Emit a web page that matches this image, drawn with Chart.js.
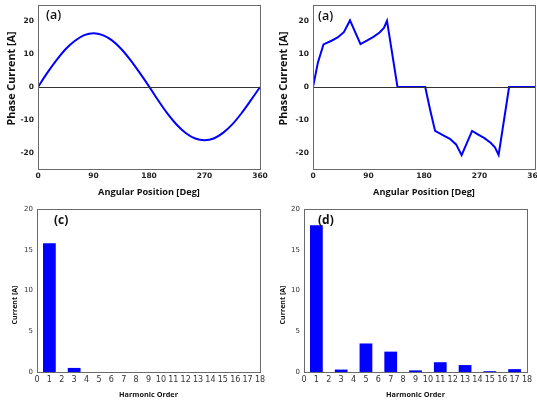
<!DOCTYPE html>
<html>
<head>
<meta charset="utf-8">
<script src="https://cdn.jsdelivr.net/npm/chart.js@4/dist/chart.umd.min.js"></script>
<style>
  body { margin: 0; background: #fff; }
  #wrap { position: relative; width: 537px; height: 401px; }
  canvas { position: absolute; }
</style>
</head>
<body>
<div id="wrap">
  <canvas id="pa" width="268" height="200" style="left:0;top:0"></canvas>
  <canvas id="pb" width="269" height="200" style="left:268px;top:0"></canvas>
  <canvas id="pc" width="268" height="201" style="left:0;top:200px"></canvas>
  <canvas id="pd" width="269" height="201" style="left:268px;top:200px"></canvas>
</div>
<script>
// sinusoidal phase current, read every 15 deg
const sineAngles = [0, 15, 30, 45, 60, 75, 90, 105, 120, 135, 150, 165, 180,
                    195, 210, 225, 240, 255, 270, 285, 300, 315, 330, 345, 360];
const sineCurrent = [0, 4.3, 8.2, 11.6, 14.1, 15.8, 16.4, 15.8, 14.2, 11.6, 8.2, 4.3, 0.2,
                     -4.1, -8.1, -11.5, -14.1, -15.7, -16.2, -15.7, -14.0, -11.4, -8.0, -4.1, 0];

// square-ish (BLDC) phase current
const pulseAngles = [0, 8, 17, 30, 40, 50, 60, 77, 88, 98, 108, 115, 120, 137, 182,
                     190, 198, 212, 222, 232, 241, 258, 268, 278, 288, 295, 301, 318, 360];
const pulseCurrent = [0, 7.5, 13.0, 14.1, 15.1, 16.7, 20.3, 13.1, 14.2, 15.3, 16.6, 18.0, 20.2, 0, 0,
                      -7.0, -13.4, -14.8, -15.8, -17.5, -20.8, -13.4, -14.5, -15.6, -17.0, -18.4, -20.7, 0, 0];

const angleTicks = [0, 90, 180, 270, 360];
const phaseTicks = [-20, -10, 0, 10, 20];

// harmonic spectra
const harmonics = [1, 3, 5, 7, 9, 11, 13, 15, 17];
const sineHarm = [15.8, 0.5, 0, 0, 0, 0, 0, 0, 0];
const pulseHarm = [18.0, 0.3, 3.5, 2.5, 0.2, 1.2, 0.85, 0.1, 0.35];
const orderTicks = [0, 1, 2, 3, 4, 5, 6, 7, 8, 9, 10, 11, 12, 13, 14, 15, 16, 17, 18];
const ampTicks = [0, 5, 10, 15, 20];

const BLUE = '#0000ff';

// font size that makes a bold Open Sans title about `w` px wide
const measureCtx = document.createElement('canvas').getContext('2d');
function sizeFor(text, w) {
    measureCtx.font = 'bold 10px "Open Sans"';
    return 10 * w / measureCtx.measureText(text).width;
}
const angTitleSize = sizeFor('Angular Position [Deg]', 102);
const phaseTitleSize = sizeFor('Phase Current [A]', 94);
const orderTitleSize = sizeFor('Harmonic Order', 59);
const curTitleSize = sizeFor('Current [A]', 39);

// frame, zero line, panel letter and the (off-centre) y title
const framePlugin = {
    id: 'frame',
    afterDraw(chart, args, opts) {
        const a = chart.chartArea;
        const ctx = chart.ctx;
        ctx.save();
        if (opts.zero) {
            const y0 = Math.round(chart.scales.y.getPixelForValue(0)) + 0.5;
            ctx.strokeStyle = '#333';
            ctx.lineWidth = 1.2;
            ctx.beginPath();
            ctx.moveTo(a.left, y0);
            ctx.lineTo(a.right, y0);
            ctx.stroke();
        }
        ctx.strokeStyle = '#6a6a6a';
        ctx.lineWidth = 1;
        ctx.strokeRect(Math.round(a.left) + 0.5, Math.round(a.top) + 0.5,
                       Math.round(a.right - a.left), Math.round(a.bottom - a.top));
        ctx.fillStyle = '#111';
        ctx.textBaseline = 'middle';
        ctx.font = opts.font;
        ctx.fillText(opts.label, opts.lx, opts.ly);

        ctx.translate(opts.tx, opts.tyc);
        ctx.rotate(-Math.PI / 2);
        ctx.textAlign = 'center';
        ctx.font = opts.tfont;
        ctx.fillText(opts.ytitle, 0, 0);
        ctx.restore();
    }
};

function fixBox(left, bottom) {
    return {
        y: (s) => { s.width = left; s.paddingTop = 0; s.paddingBottom = 0; },
        x: (s) => { s.height = s.chart.height - bottom; s.paddingLeft = 0; s.paddingRight = 0; }
    };
}

function lineChart(id, xs, ys, box, label, tension) {
    const fit = fixBox(box.left, box.bottom);
    new Chart(document.getElementById(id), {
        type: 'line',
        data: {
            datasets: [{
                data: xs.map((x, i) => ({x: x, y: ys[i]})),
                borderColor: BLUE,
                borderWidth: 2,
                pointRadius: 0,
                tension: tension,
                cubicInterpolationMode: tension ? 'monotone' : 'default'
            }]
        },
        options: {
            responsive: false,
            animation: false,
            layout: {padding: {left: 0, top: box.top, right: box.right, bottom: 0}},
            plugins: {
                legend: {display: false},
                tooltip: {enabled: false},
                frame: {zero: true, label: label, lx: box.lx, ly: box.ly, font: '600 12.5px "Open Sans"',
                        ytitle: 'Phase Current [A]', tx: box.tx, tyc: 78.5,
                        tfont: 'bold ' + phaseTitleSize + 'px "Open Sans"'}
            },
            scales: {
                x: {
                    type: 'linear', min: 0, max: 360,
                    afterBuildTicks: (s) => { s.ticks = angleTicks.map(v => ({value: v})); },
                    afterFit: fit.x,
                    grid: {display: false, drawTicks: false}, border: {display: false},
                    ticks: {font: {family: 'DejaVu Sans', weight: 'bold', size: 7.5}, color: '#222', padding: 3, maxRotation: 0},
                    title: {display: true, text: 'Angular Position [Deg]', color: '#111',
                            font: {family: 'Open Sans', weight: 'bold', size: angTitleSize}, padding: {top: 0, bottom: 2}}
                },
                y: {
                    min: -25, max: 25,
                    afterBuildTicks: (s) => { s.ticks = phaseTicks.map(v => ({value: v})); },
                    afterFit: fit.y,
                    grid: {display: false, drawTicks: false}, border: {display: false},
                    ticks: {font: {family: 'DejaVu Sans', weight: 'bold', size: 7.5}, color: '#222', padding: 4}
                }
            }
        },
        plugins: [framePlugin]
    });
}

function barChart(id, vals, box, label) {
    const fit = fixBox(box.left, box.bottom);
    new Chart(document.getElementById(id), {
        type: 'bar',
        data: {
            datasets: [{
                data: harmonics.map((h, i) => ({x: h, y: vals[i]})),
                backgroundColor: BLUE,
                borderWidth: 0,
                categoryPercentage: 1,
                barPercentage: 1.03
            }]
        },
        options: {
            responsive: false,
            animation: false,
            layout: {padding: {left: 0, top: box.top, right: box.right, bottom: 0}},
            plugins: {
                legend: {display: false},
                tooltip: {enabled: false},
                frame: {zero: false, label: label, lx: box.lx, ly: box.ly, font: 'bold 12px "Open Sans"',
                        ytitle: 'Current [A]', tx: box.tx, tyc: 105,
                        tfont: 'bold ' + curTitleSize + 'px "Open Sans"'}
            },
            scales: {
                x: {
                    type: 'linear', min: 0, max: 18, offset: false,
                    afterBuildTicks: (s) => { s.ticks = orderTicks.map(v => ({value: v})); },
                    afterFit: fit.x,
                    grid: {display: false, drawTicks: false}, border: {display: false},
                    ticks: {font: {family: 'DejaVu Sans', size: 8}, color: '#333', padding: 3, maxRotation: 0, autoSkip: false},
                    title: {display: true, text: 'Harmonic Order', color: '#111', align: 'center',
                            font: {family: 'Open Sans', weight: 'bold', size: orderTitleSize}, padding: {top: 0, bottom: 1.5}}
                },
                y: {
                    min: 0, max: 20,
                    afterBuildTicks: (s) => { s.ticks = ampTicks.map(v => ({value: v})); },
                    afterFit: fit.y,
                    grid: {display: false, drawTicks: false}, border: {display: false},
                    ticks: {font: {family: 'DejaVu Sans', size: 7}, color: '#333', padding: 4}
                }
            }
        },
        plugins: [framePlugin]
    });
}

lineChart('pa', sineAngles, sineCurrent,
    {left: 38, top: 5, right: 8, bottom: 169, tx: 12, lx: 46, ly: 15}, '(a)', 0.4);
lineChart('pb', pulseAngles, pulseCurrent,
    {left: 45, top: 5, right: 2, bottom: 169, tx: 16, lx: 50, ly: 16}, '(a)', 0);
barChart('pc', sineHarm,
    {left: 37, top: 9, right: 8, bottom: 172, tx: 15, lx: 54, ly: 21}, '(c)');
barChart('pd', pulseHarm,
    {left: 36, top: 9, right: 10, bottom: 172, tx: 15, lx: 50, ly: 21}, '(d)');
</script>
</body>
</html>
